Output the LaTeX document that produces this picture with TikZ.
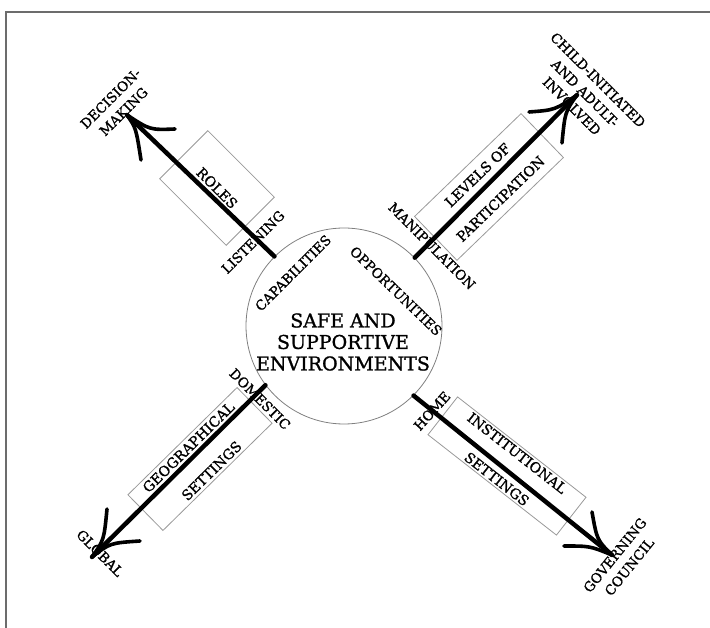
\documentclass[tikz,border=0pt]{standalone}
\usepackage{fontspec}
\setmainfont{DejaVu Serif}[FakeBold=1.1]
\usetikzlibrary{calc}
\begin{document}
\begin{tikzpicture}[x=1pt, y=-1pt,
       frame/.style = {draw=gray!85!black, line width=2pt},
         hub/.style = {circle, draw=gray, line width=0.8pt, inner sep=0pt,
                       minimum size=196pt},
     hubtext/.style = {align=center, inner sep=0pt,
                       font=\fontsize{19}{21.5}\selectfont},
        band/.style = {draw=gray!80, line width=0.8pt, inner sep=0pt,
                       align=center, font=\fontsize{14}{33}\selectfont},
         lbl/.style = {align=center, inner sep=0pt,
                       font=\fontsize{13.5}{18.5}\selectfont},
       shaft/.style = {line width=4.5pt, line cap=round},
        barb/.style = {line width=3.6pt, line cap=round}
                        ]
    \useasboundingbox (0,0) rectangle (710,628);

    % Frame (top and left edge only)
    \draw[frame] (710,12) -- (6,12) -- (6,628);

    % The hub
    \node (env) at (344,326) [hub] {};
    \node (envtext) at (343,342) [hubtext] {SAFE AND\\SUPPORTIVE\\ENVIRONMENTS};
    \node (cap) at (293,273) [lbl, rotate=45] {CAPABILITIES};
    \node (opp) at (396,291) [lbl, rotate=-44] {OPPORTUNITIES};

    % The four bands
    \node (roles) at (217,188) [band, rotate=-45,
                                minimum width=94, minimum height=68] {ROLES};
    \node (levels) at (489,187) [band, rotate=44,
                                minimum width=148, minimum height=61] {LEVELS OF\\PARTICIPATION};
    \node (geo) at (200,459) [band, rotate=44.5,
                                minimum width=153, minimum height=50] {GEOGRAPHICAL\\SETTINGS};
    \node (inst) at (507,466) [band, rotate=-38,
                                minimum width=163, minimum height=48] {INSTITUTIONAL\\SETTINGS};

    % Labels at both ends of each arrow
    \node (listen) at (253,242) [lbl, rotate=45] {LISTENING};
    \node (decide) at (117,105) [lbl, rotate=45] {DECISION-\\MAKING};
    \node (manip) at (432,246) [lbl, rotate=-45] {MANIPULATION};
    \node (child) at (585,93) [lbl, rotate=-45] {CHILD-INITIATED\\AND ADULT-\\INVOLVED};
    \node (dom) at (260,399) [lbl, rotate=-45] {DOMESTIC};
    \node (glob) at (100,553) [lbl, rotate=-45] {GLOBAL};
    \node (home) at (432,411) [lbl, rotate=48] {HOME};
    \node (gov) at (622,561) [lbl, rotate=51] {GOVERNING\\COUNCIL};

    % Arrow tips and barb ends
    \coordinate (nwtip) at (127,115);
    \coordinate (nwa) at (141,160);
    \coordinate (nwb) at (175,129);
    \coordinate (netip) at (577,95);
    \coordinate (nea) at (529,112);
    \coordinate (neb) at (562,143);
    \coordinate (swtip) at (92,557);
    \coordinate (swa) at (107,509);
    \coordinate (swb) at (140,541);
    \coordinate (setip) at (612,555);
    \coordinate (sea) at (592,512);
    \coordinate (seb) at (564,546);

    % Shafts
    \draw[shaft] (env.135.5) -- (nwtip);
    \draw[shaft] (env.44.5) -- (netip);
    \draw[shaft] (env.217) -- (swtip);
    \draw[shaft] (env.-45) -- (setip);

    % Hand drawn barbs
    \draw[barb] (nwtip) .. controls (136,128) .. (nwa);
    \draw[barb] (nwtip) .. controls (150,130) .. (nwb);
    \draw[barb] (netip) .. controls (555,110) .. (nea);
    \draw[barb] (netip) .. controls (565,112) .. (neb);
    \draw[barb] (swtip) .. controls (104,540) .. (swa);
    \draw[barb] (swtip) .. controls (110,543) .. (swb);
    \draw[barb] (setip) .. controls (597,540) .. (sea);
    \draw[barb] (setip) .. controls (590,546) .. (seb);

\end{tikzpicture}
\end{document}
